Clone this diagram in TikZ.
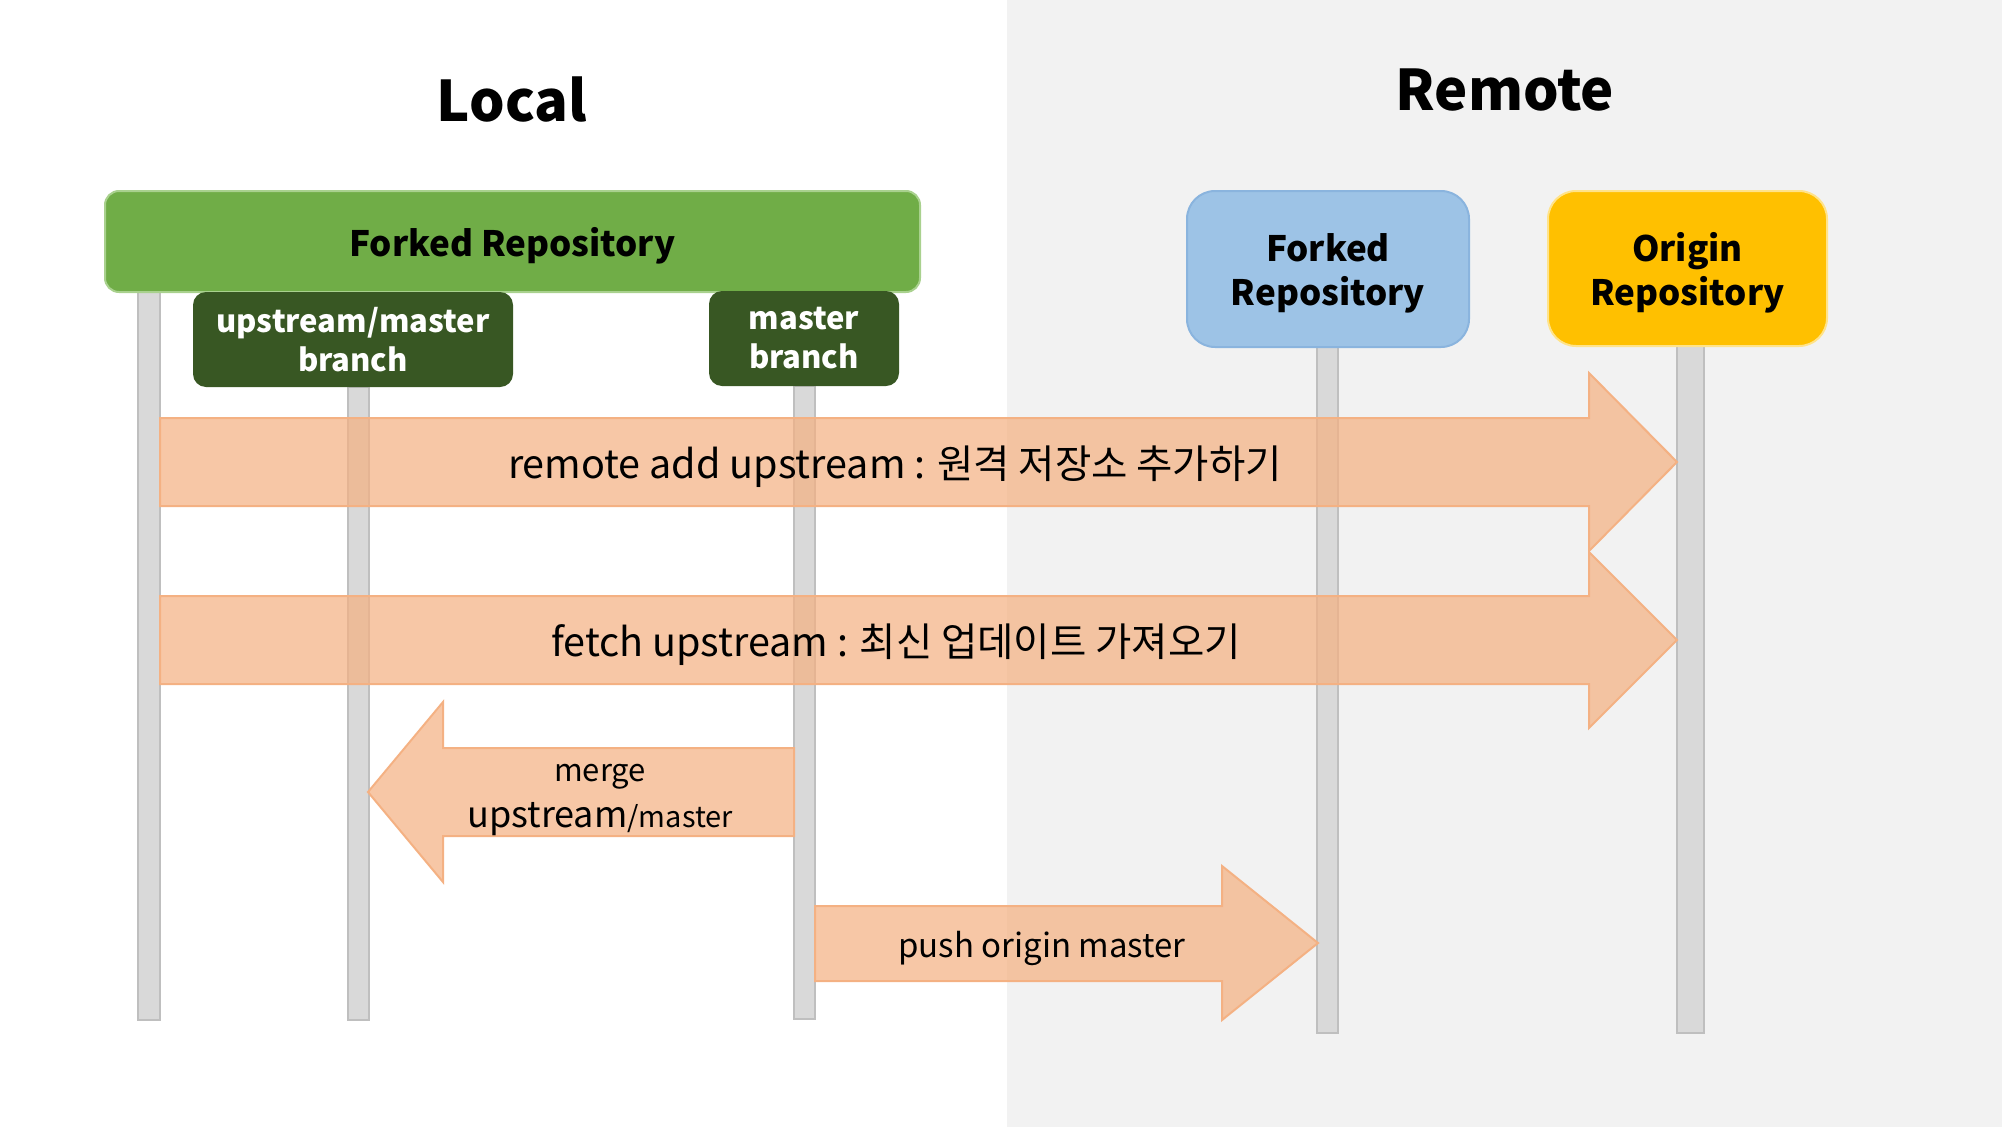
\documentclass[tikz,border=0pt]{standalone}
\usepackage{fontspec}
\setmainfont{Noto Sans CJK KR}
\definecolor{bggray}{HTML}{F2F2F2}
\definecolor{bargray}{HTML}{D9D9D9}
\definecolor{barline}{HTML}{BFBFBF}
\definecolor{repogreen}{HTML}{70AD47}
\definecolor{repogreenline}{HTML}{A9D18E}
\definecolor{branchgreen}{HTML}{385723}
\definecolor{repoblue}{HTML}{9DC3E6}
\definecolor{repoblueline}{HTML}{8AB4DE}
\definecolor{repoorange}{HTML}{FFC000}
\definecolor{repoorangeline}{HTML}{FFE38A}
\definecolor{arrowfill}{HTML}{F4B183}
\tikzset{
  lifebar/.style={fill=bargray, draw=barline, line width=1.5pt},
  blockarrow/.style={fill=arrowfill, fill opacity=0.72, draw=arrowfill, line width=2pt, line join=miter},
  bigbox/.style={rounded corners=14pt, inner sep=0pt, align=center, font=\fontsize{35}{44}\selectfont\bfseries},
  branchbox/.style={fill=branchgreen, rounded corners=13pt, inner sep=0pt, align=center, text=white, font=\fontsize{31}{39}\selectfont\bfseries},
  title/.style={anchor=base, font=\fontsize{56}{64}\selectfont\bfseries},
  arrowlabel/.style={inner sep=0pt, align=center},
}
\begin{document}
\begin{tikzpicture}[x=1pt, y=-1pt]
\useasboundingbox (0,0) rectangle (2002,1127);
% remote background
\fill[bggray] (1007,0) rectangle (2002,1127);
% titles
\node[title] (local) at (512,121) {Local};
\node[title] (remote) at (1505,110) {Remote};
% life bars
\path[lifebar] (138,292) rectangle (160,1020);
\path[lifebar] (348,387) rectangle (369,1020);
\path[lifebar] (794,386) rectangle (815,1019);
\path[lifebar] (1317,346) rectangle (1338,1033);
\path[lifebar] (1677,346) rectangle (1704,1033);
% repositories
\path[rounded corners=14pt, fill=repogreen, draw=repogreenline, line width=2pt] (105,191) rectangle (920,292);
\node[bigbox, minimum width=815pt, minimum height=101pt] (localrepo) at (512.5,245.5) {Forked Repository};
\node[branchbox, minimum width=320pt, minimum height=95pt] (upbranch) at (353,339.5) {upstream/master\\branch};
\node[branchbox, minimum width=190pt, minimum height=95pt] (mbranch) at (804,338.5) {master\\branch};
\path[rounded corners=28pt, fill=repoblue, draw=repoblueline, line width=2pt] (1187,191) rectangle (1469,347);
\node[bigbox] (forkrepo) at (1328,273) {Forked\\Repository};
\path[rounded corners=28pt, fill=repoorange, draw=repoorangeline, line width=2pt] (1548,191) rectangle (1827,346);
\node[bigbox] (originrepo) at (1687.5,273) {Origin\\Repository};
% block arrows
\path[blockarrow] (160,418) -- (1589,418) -- (1589,373) -- (1677,462) -- (1589,551) -- (1589,506) -- (160,506) -- cycle;
\path[blockarrow] (160,596) -- (1589,596) -- (1589,552) -- (1677,640) -- (1589,728) -- (1589,684) -- (160,684) -- cycle;
\path[blockarrow] (794,748) -- (443,748) -- (443,702) -- (368,792) -- (443,882) -- (443,836) -- (794,836) -- cycle;
\path[blockarrow] (815,906) -- (1222,906) -- (1222,866) -- (1318,943) -- (1222,1020) -- (1222,981) -- (815,981) -- cycle;
% arrow labels
\node[arrowlabel, font=\fontsize{39.5}{44}\selectfont] (addlabel) at (895,467) {remote add upstream : 원격 저장소 추가하기};
\node[arrowlabel, font=\fontsize{39.5}{44}\selectfont] (fetchlabel) at (896,645) {fetch upstream : 최신 업데이트 가져오기};
\node[arrowlabel, font=\fontsize{31}{36}\selectfont] (mergelabel) at (600,777) {merge};
\node[arrowlabel] (mergelabelb) at (600,819) {{\fontsize{36}{40}\selectfont upstream}{\fontsize{29}{36}\selectfont /master}};
\node[arrowlabel, font=\fontsize{33}{36}\selectfont] (pushlabel) at (1042,948) {push origin master};
\end{tikzpicture}
\end{document}
